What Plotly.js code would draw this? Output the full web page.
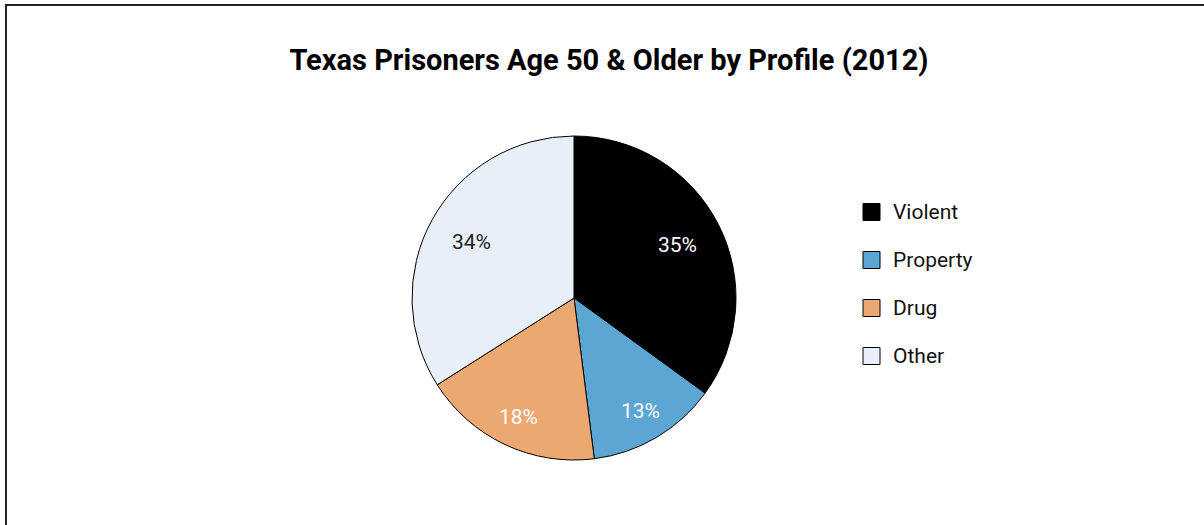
<!DOCTYPE html>
<html>
<head>
<meta charset="utf-8">
<script src="https://cdn.plot.ly/plotly-3.0.1.min.js"></script>
<style>html,body{margin:0;padding:0;background:#fff;}#chart{width:1204px;height:525px;}</style>
</head>
<body>
<div id="chart"></div>
<script>
const categories = ['Violent', 'Property', 'Drug', 'Other'];
const shares = [35, 13, 18, 34];
const sliceColors = ['#000000', '#5ba6d3', '#eba871', '#e8eff8'];
const labelColors = ['#ffffff', '#ffffff', '#ffffff', '#222222'];
const chartTitle = 'Texas Prisoners Age 50 &amp; Older by Profile (2012)';

const W = 1204, H = 525;
const px = x => x / W;
const py = y => 1 - y / H;

const cx = 574, cy = 298, r = 162;

const trace = {
  type: 'pie',
  labels: categories,
  values: shares,
  sort: false,
  direction: 'clockwise',
  rotation: 0,
  marker: { colors: sliceColors, line: { color: '#000', width: 1 } },
  textinfo: 'none',
  showlegend: false,
  domain: { x: [px(cx - r), px(cx + r)], y: [py(cy + r), py(cy - r)] },
  hoverinfo: 'label+percent'
};

const shapes = [
  { type: 'path', xref: 'paper', yref: 'paper',
    path: `M ${px(6)} 0 L ${px(6)} ${py(5)} L 1 ${py(5)}`,
    line: { color: '#222', width: 2 } }
];
const annotations = [];

// percentage labels placed along each slice's mid-angle
const total = shares.reduce((a, b) => a + b, 0);
let cum = 0;
shares.forEach((v, i) => {
  const frac = v / total;
  const mid = (cum + frac / 2) * 2 * Math.PI;
  cum += frac;
  const rf = frac > 0.25 ? 0.72 : 0.81;
  const lx = cx + r * rf * Math.sin(mid);
  const ly = cy - r * rf * Math.cos(mid);
  annotations.push({ xref: 'paper', yref: 'paper', x: px(lx), y: py(ly),
    xanchor: 'center', yanchor: 'middle', showarrow: false,
    text: Math.round(frac * 100) + '%',
    font: { family: 'Roboto, sans-serif', size: 21, color: labelColors[i] } });
});

const legendY = [212, 260, 308, 356];
categories.forEach((c, i) => {
  const y = legendY[i];
  shapes.push({ type: 'rect', xref: 'paper', yref: 'paper',
    x0: px(863), x1: px(880), y0: py(y + 8.5), y1: py(y - 8.5),
    fillcolor: sliceColors[i], line: { color: '#000', width: 1 } });
  annotations.push({ xref: 'paper', yref: 'paper', x: px(891), y: py(y),
    xanchor: 'left', yanchor: 'middle', showarrow: false, text: c,
    font: { family: 'Roboto, sans-serif', size: 21, color: '#111' } });
});

const layout = {
  width: W, height: H,
  margin: { l: 0, r: 0, t: 0, b: 0 },
  paper_bgcolor: '#fff',
  title: { text: '<b>' + chartTitle + '</b>', x: px(609), xanchor: 'center', y: py(60), yanchor: 'middle',
    font: { family: 'Roboto, sans-serif', size: 29, color: '#000' } },
  shapes: shapes,
  annotations: annotations
};

Plotly.newPlot('chart', [trace], layout, { displayModeBar: false, staticPlot: true });
</script>
</body>
</html>
